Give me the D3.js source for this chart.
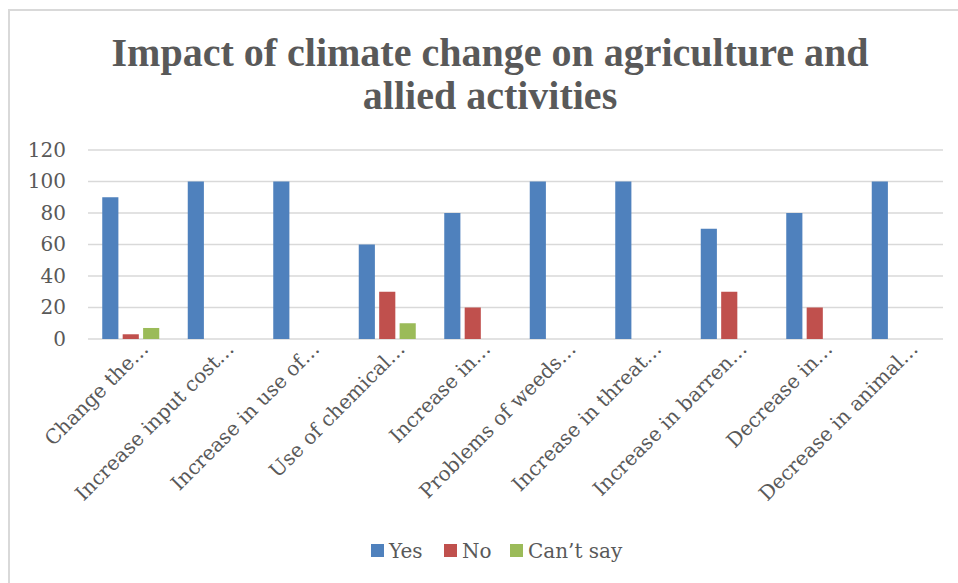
<!DOCTYPE html>
<html>
<head>
<meta charset="utf-8">
<script src="https://cdn.jsdelivr.net/npm/d3@7"></script>
<style>
    body { margin: 0; background: #fff; }
    svg text { font-family: "DejaVu Serif", serif; fill: #595959; }
</style>
</head>
<body>
<svg id="chart"></svg>
<script>
const categories = [
    'Change the…', 'Increase input cost…', 'Increase in use of…', 'Use of chemical…',
    'Increase in…', 'Problems of weeds…', 'Increase in threat…', 'Increase in barren…',
    'Decrease in…', 'Decrease in animal…'
];
const seriesNames = ['Yes', 'No', 'Can’t say'];
const yesValues = [90, 100, 100, 60, 80, 100, 100, 70, 80, 100];
const noValues = [3, 0, 0, 30, 20, 0, 0, 30, 20, 0];
const cantSayValues = [7, 0, 0, 10, 0, 0, 0, 0, 0, 0];
const yTicks = [0, 20, 40, 60, 80, 100, 120];
const colors = ['#4F81BD', '#C0504D', '#9BBB59'];

const width = 958;
const height = 583;
const margin = { top: 150, right: 15, bottom: 244, left: 88 };
const plotW = width - margin.left - margin.right;
const plotH = height - margin.top - margin.bottom;

const rows = categories.map((c, i) => ({
    cat: c,
    vals: [yesValues[i], noValues[i], cantSayValues[i]]
}));

const svg = d3.select('#chart')
    .attr('width', width)
    .attr('height', height);

// chart frame
svg.append('rect')
    .attr('x', 9)
    .attr('y', 10)
    .attr('width', width + 20)
    .attr('height', height + 20)
    .attr('fill', 'none')
    .attr('stroke', '#d9d9d9')
    .attr('stroke-width', 2);

const title = svg.append('text')
    .attr('text-anchor', 'middle')
    .style('font-family', '"Liberation Serif", serif')
    .style('font-weight', 'bold')
    .style('font-size', '40px');
title.append('tspan').attr('x', 490).attr('y', 66).text('Impact of climate change on agriculture and');
title.append('tspan').attr('x', 490).attr('y', 109).text('allied activities');

const g = svg.append('g')
    .attr('transform', `translate(${margin.left}, ${margin.top})`);

const xScale = d3.scaleBand()
    .domain(categories)
    .range([0, plotW]);

const xInner = d3.scaleBand()
    .domain(d3.range(seriesNames.length))
    .range([-28.5, 28.5])
    .paddingInner(0.21);

const yScale = d3.scaleLinear()
    .domain([0, 120])
    .range([plotH, 0]);

// gridlines
g.append('g')
    .attr('class', 'grid')
    .selectAll('line')
    .data(yTicks)
    .enter()
    .append('line')
    .attr('x1', 0)
    .attr('x2', plotW)
    .attr('y1', (d) => yScale(d))
    .attr('y2', (d) => yScale(d))
    .attr('stroke', '#d9d9d9')
    .attr('stroke-width', 1.5);

const yAxis = d3.axisLeft(yScale)
    .tickValues(yTicks)
    .tickSize(0)
    .tickPadding(22);

g.append('g')
    .attr('class', 'y axis')
    .call(yAxis)
    .call((sel) => sel.select('.domain').remove())
    .selectAll('text')
    .style('font-size', '20px')
    .style('fill', '#595959');

// bars
g.append('g')
    .attr('class', 'bars')
    .selectAll('.group')
    .data(rows)
    .enter()
    .append('g')
    .attr('transform', (d) => `translate(${xScale(d.cat) + xScale.bandwidth() / 2}, 0)`)
    .selectAll('rect')
    .data((d) => d.vals.map((v, k) => ({ v, k })).filter((e) => e.v > 0))
    .enter()
    .append('rect')
    .attr('x', (d) => xInner(d.k))
    .attr('width', xInner.bandwidth())
    .attr('y', (d) => yScale(d.v))
    .attr('height', (d) => yScale(0) - yScale(d.v))
    .attr('fill', (d) => colors[d.k]);

// category labels
const xAxis = d3.axisBottom(xScale).tickSize(0).tickPadding(0);
g.append('g')
    .attr('class', 'x axis')
    .attr('transform', `translate(0, ${plotH})`)
    .call(xAxis)
    .call((sel) => sel.select('.domain').remove())
    .selectAll('text')
    .attr('text-anchor', 'end')
    .attr('dy', 0)
    .attr('y', 0)
    .attr('transform', 'translate(19, 11) rotate(-45)')
    .style('font-size', '20px')
    .style('fill', '#595959');

// legend
const legend = svg.append('g')
    .attr('class', 'legend');
const legendX = [371, 444, 510];
seriesNames.forEach((name, i) => {
    legend.append('rect')
        .attr('x', legendX[i])
        .attr('y', 544)
        .attr('width', 13)
        .attr('height', 13)
        .attr('fill', colors[i]);
    legend.append('text')
        .attr('x', legendX[i] + 18)
        .attr('y', 558)
        .style('font-size', '20px')
        .text(name);
});
</script>
</body>
</html>
